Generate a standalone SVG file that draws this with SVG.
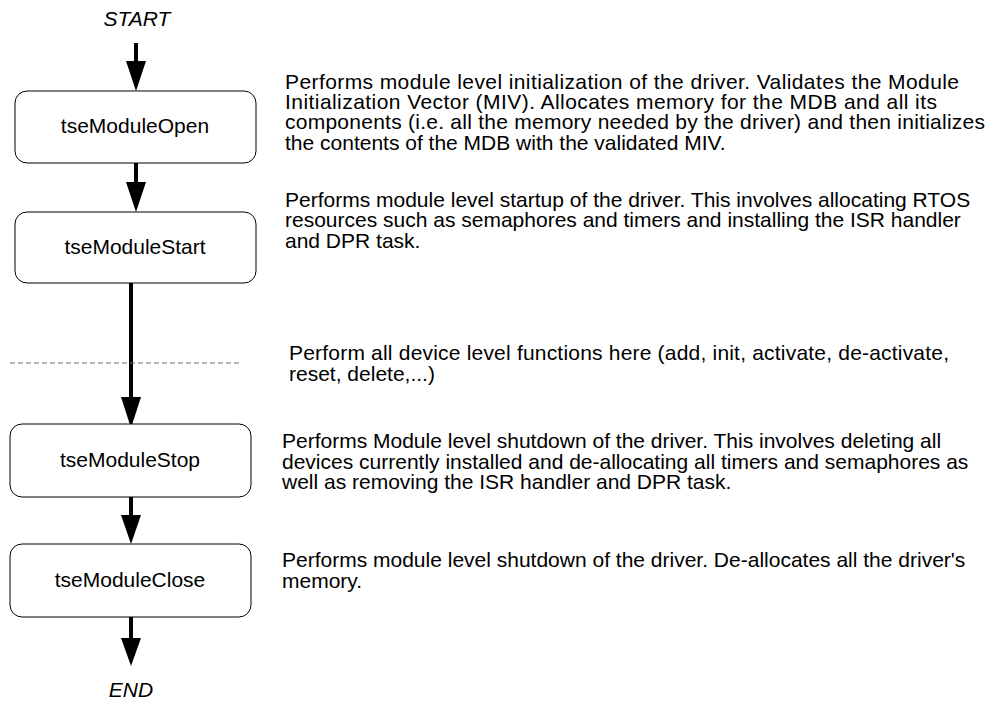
<svg xmlns="http://www.w3.org/2000/svg" width="992" height="702" viewBox="0 0 992 702">
<defs>
<style>
text{font-family:"Liberation Sans",Arial,sans-serif;font-size:21px;fill:#000}
.lbl{text-anchor:middle}
.it{font-style:italic;text-anchor:middle}
.box{fill:#fff;stroke:#000;stroke-width:1}
.arr{stroke:#000;stroke-width:4;fill:none}
.head{fill:#000}
</style>
</defs>
<rect width="992" height="702" fill="#fff"/>
<text class="it" x="137" y="26">START</text>
<text class="it" x="131" y="697">END</text>
<g id="connectors">
<line class="arr" x1="136" y1="43" x2="136" y2="63"/>
<polygon class="head" points="126,61 146,61 136,91"/>
<line class="arr" x1="136" y1="163" x2="136" y2="184"/>
<polygon class="head" points="126,182 146,182 136,212"/>
<line class="arr" x1="131" y1="283" x2="131" y2="400"/>
<polygon class="head" points="121,397 141,397 131,428"/>
<line class="arr" x1="131" y1="497" x2="131" y2="517"/>
<polygon class="head" points="121,515 141,515 131,544"/>
<line class="arr" x1="131" y1="617" x2="131" y2="640"/>
<polygon class="head" points="121,638 141,638 131,666"/>
<line x1="10" y1="363" x2="241" y2="363" stroke="#6e6e6e" stroke-width="1" stroke-dasharray="5 3"/>
</g>
<g id="open">
<rect class="box" x="15" y="91" width="241" height="72" rx="12"/>
<text class="lbl" x="135" y="133">tseModuleOpen</text>
</g>
<g id="start">
<rect class="box" x="15" y="212" width="241" height="71" rx="12"/>
<text class="lbl" x="135" y="254">tseModuleStart</text>
</g>
<g id="stop">
<rect class="box" x="10" y="424" width="241" height="73" rx="12"/>
<text class="lbl" x="130" y="467">tseModuleStop</text>
</g>
<g id="close">
<rect class="box" x="10" y="544" width="241" height="73" rx="12"/>
<text class="lbl" x="130" y="587">tseModuleClose</text>
</g>
<g id="notes">
<text x="285" y="89" textLength="674" lengthAdjust="spacing">Performs module level initialization of the driver. Validates the Module</text>
<text x="285" y="109" textLength="652" lengthAdjust="spacing">Initialization Vector (MIV). Allocates memory for the MDB and all its</text>
<text x="285" y="129" textLength="700" lengthAdjust="spacing">components (i.e. all the memory needed by the driver) and then initializes</text>
<text x="285" y="150">the contents of the MDB with the validated MIV.</text>
<text x="285" y="207">Performs module level startup of the driver. This involves allocating RTOS</text>
<text x="285" y="227">resources such as semaphores and timers and installing the ISR handler</text>
<text x="285" y="248">and DPR task.</text>
<text x="289" y="360" textLength="660" lengthAdjust="spacing">Perform all device level functions here (add, init, activate, de-activate,</text>
<text x="289" y="381">reset, delete,...)</text>
<text x="282" y="448">Performs Module level shutdown of the driver. This involves deleting all</text>
<text x="282" y="469">devices currently installed and de-allocating all timers and semaphores as</text>
<text x="282" y="489">well as removing the ISR handler and DPR task.</text>
<text x="282" y="567">Performs module level shutdown of the driver. De-allocates all the driver's</text>
<text x="282" y="588">memory.</text>
</g>
</svg>
